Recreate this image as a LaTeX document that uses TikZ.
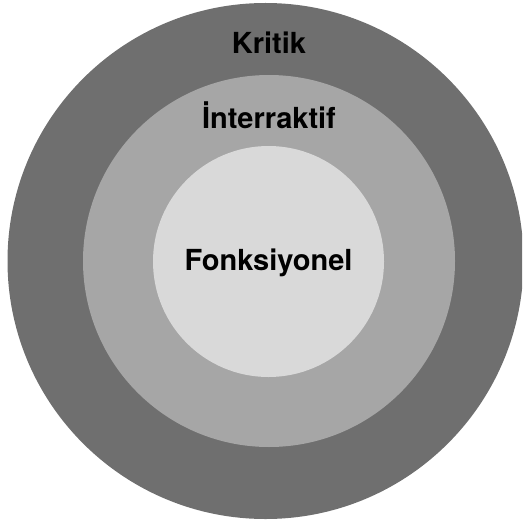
\documentclass[tikz,border=0pt]{standalone}
\usepackage{fontspec}
\setmainfont{TeX Gyre Heros}
\usepackage{xcolor}
\usepackage{tikz}
\usetikzlibrary{positioning}

\definecolor{ringdark}{HTML}{6F6F6F}
\definecolor{ringmid}{HTML}{A6A6A6}
\definecolor{ringlight}{HTML}{D9D9D9}

\begin{document}
\begin{tikzpicture}[x=1pt, y=-1pt,
    ring/.style={circle, inner sep=0pt, draw=none},
    lbl/.style={anchor=base, font=\fontsize{29}{29}\selectfont\bfseries}]
      \clip (0,0) rectangle (522,524);

      % Rings, outside in
      \foreach \n/\c/\d/\x/\y in {kritik/ringdark/516/265.5/261, interaktif/ringmid/372/269/261, fonksiyonel/ringlight/231/268.5/261.5} {
        \node[ring, fill=\c, minimum size=\d pt] (\n) at (\x, \y) {};
      }

      % Level names
      \node[lbl] (kritikLbl) at (269, 54) {Kritik};
      \node[lbl] (interaktifLbl) at (269, 128.3) {İnterraktif};
      \node[lbl] (fonksiyonelLbl) at (268.5, 270.7) {Fonksiyonel};
    \end{tikzpicture}
\end{document}
